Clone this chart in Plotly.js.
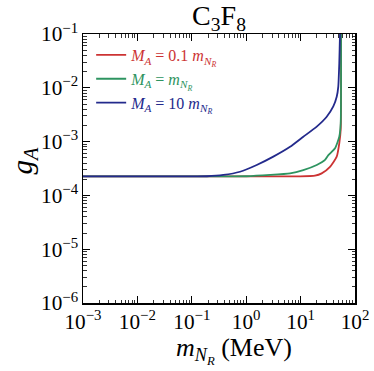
<!DOCTYPE html>
<html>
<head>
<meta charset="utf-8">
<script src="https://cdn.plot.ly/plotly-3.0.1.min.js"></script>
<style>html,body{margin:0;padding:0;background:#fff;}#chart{width:374px;height:371px;}</style>
</head>
<body>
<div id="chart"></div>
<script>
// Series: M_A = 0.1 m_NR (red)
const redX = [0.001, 0.01, 0.1, 1, 9.8, 18.4, 24.4, 34.7, 46.1, 51.4, 54.6, 55.3];
const redY = [2.25e-4, 2.25e-4, 2.25e-4, 2.25e-4, 2.26e-4, 2.33e-4, 2.57e-4, 3.4e-4, 5.25e-4, 9.3e-4, 1.66e-3, 0.15];
// Series: M_A = m_NR (green)
const greenX = [0.001, 0.01, 0.1, 1.0, 2.75, 6.4, 11.2, 19.8, 28.1, 32.4, 42.9, 51.4, 54.6, 55.3];
const greenY = [2.25e-4, 2.25e-4, 2.25e-4, 2.27e-4, 2.4e-4, 2.57e-4, 2.95e-4, 3.67e-4, 4.57e-4, 5.6e-4, 7.5e-4, 1.23e-3, 2.2e-3, 0.15];
// Series: M_A = 10 m_NR (blue)
const blueX = [0.001, 0.01, 0.1, 0.19, 0.38, 0.77, 1.56, 3.15, 6.4, 11.2, 19.8, 30.2, 39.9, 46.1, 49.3, 51.4, 53, 53.5];
const blueY = [2.25e-4, 2.25e-4, 2.25e-4, 2.27e-4, 2.4e-4, 2.75e-4, 3.67e-4, 5.25e-4, 8.0e-4, 1.23e-3, 1.9e-3, 2.9e-3, 4.5e-3, 6.8e-3, 1.05e-2, 2.85e-2, 0.1, 0.15];

// Tick label aliases so 1 and 10 are shown as powers of ten
const tickAlias = {'1': '10<sup>0</sup>', '10': '10<sup>1</sup>'};

const names = [
  '<i>M<sub>A</sub></i> = 0.1 <i>m<sub>N<sub>R</sub></sub></i>',
  '<i>M<sub>A</sub></i> = <i>m<sub>N<sub>R</sub></sub></i>',
  '<i>M<sub>A</sub></i> = 10 <i>m<sub>N<sub>R</sub></sub></i>'
];
const colors = ['#cc3333', '#2e9460', '#232a8c'];
const xTitle = '<i>m<sub>N<sub>R</sub></sub></i> (MeV)';
const yTitle = '<i>g<sub>A</sub></i>';

const serif = '"Liberation Serif", "DejaVu Serif", serif';

const traces = [
  {x: redX, y: redY, name: '<span style="color:' + colors[0] + '">' + names[0] + '</span>'},
  {x: greenX, y: greenY, name: '<span style="color:' + colors[1] + '">' + names[1] + '</span>'},
  {x: blueX, y: blueY, name: '<span style="color:' + colors[2] + '">' + names[2] + '</span>'}
].map((t, i) => Object.assign(t, {
  type: 'scatter', mode: 'lines',
  line: {color: colors[i], width: 1.8, shape: 'spline', smoothing: 0.5}
}));

const axisCommon = {
  type: 'log',
  showline: true, linecolor: '#000', linewidth: 1.5,
  mirror: 'ticks',
  ticks: 'inside', ticklen: 7, tickwidth: 1.2, tickcolor: '#000',
  showgrid: false, zeroline: false,
  tickmode: 'linear', tick0: 0, dtick: 1,
  exponentformat: 'power',
  labelalias: tickAlias,
  tickfont: {family: serif, size: 17, color: '#000'},
  minor: {ticks: 'inside', ticklen: 3.5, tickwidth: 0.8, tickcolor: '#000', showgrid: false}
};

const layout = {
  width: 374, height: 371,
  margin: {l: 83, r: 19, t: 34, b: 68},
  paper_bgcolor: '#fff', plot_bgcolor: '#fff',
  showlegend: true,
  title: {
    text: 'C<sub>3</sub>F<sub>8</sub>',
    font: {family: serif, size: 28, color: '#000'},
    x: 0.5, xref: 'paper', xanchor: 'center',
    y: 1, yref: 'paper', yanchor: 'bottom', pad: {b: 9}
  },
  xaxis: Object.assign({}, axisCommon, {range: [-3, 2]}),
  yaxis: Object.assign({}, axisCommon, {range: [-6, -1]}),
  annotations: [
    {text: xTitle, xref: 'paper', yref: 'paper', x: 0.5, y: 0, xanchor: 'center', yanchor: 'middle',
     xshift: 15, yshift: -47, showarrow: false, font: {family: serif, size: 26, color: '#000'}},
    {text: yTitle, xref: 'paper', yref: 'paper', x: 0, y: 0.5, xanchor: 'center', yanchor: 'middle',
     xshift: -60, yshift: 8, textangle: -90, showarrow: false, font: {family: serif, size: 29, color: '#000'}}
  ],
  legend: {
    x: 0.03, y: 0.985, xanchor: 'left', yanchor: 'top',
    bgcolor: 'rgba(0,0,0,0)', borderwidth: 0,
    font: {family: serif, size: 16},
    itemwidth: 30, tracegroupgap: 0
  }
};

Plotly.newPlot('chart', traces, layout, {displayModeBar: false, staticPlot: true});
</script>
</body>
</html>
